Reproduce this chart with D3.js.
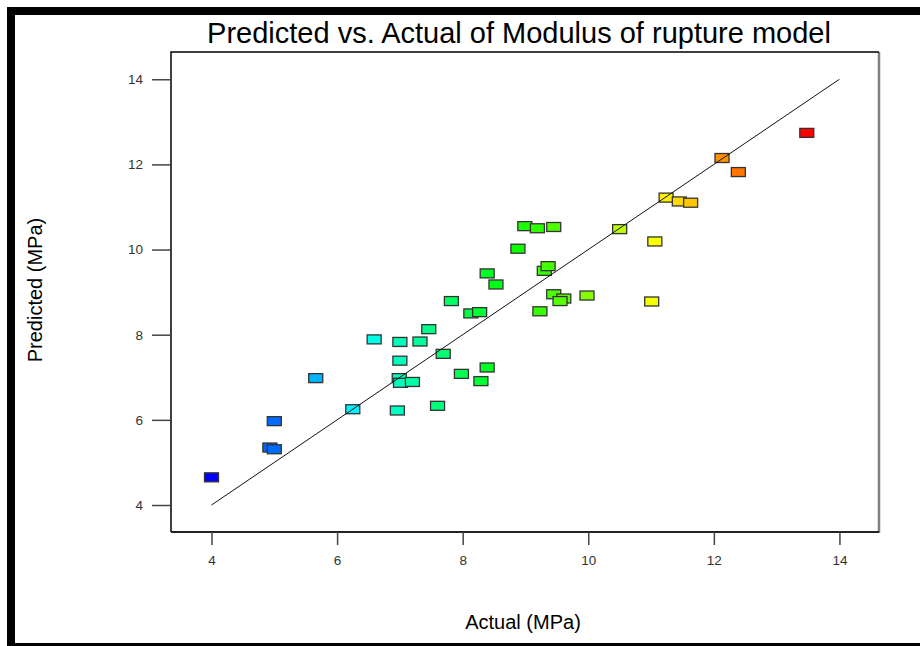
<!DOCTYPE html>
<html>
<head>
<meta charset="utf-8">
<script src="https://cdnjs.cloudflare.com/ajax/libs/d3/7.8.5/d3.min.js"></script>
<style>
    body { margin: 0; background: #fff; }
    svg { display: block; font-family: "Liberation Sans", Arial, sans-serif; }
    .axis text { fill: #333; font-size: 13.5px; }
    .axis line { stroke: #444; stroke-width: 1.5; }
</style>
</head>
<body>
<svg class="chart"></svg>
<script>
// Data
var actual = [4.00, 5.00, 4.93, 5.00, 5.66, 6.25, 6.59, 7.00, 7.32, 7.46,
    7.00, 6.99, 7.01, 7.20, 6.96, 7.60, 7.69, 7.98, 8.99, 9.19,
    9.45, 8.88, 8.39, 8.53, 9.30, 9.36, 7.82, 8.13, 8.27, 9.45,
    9.61, 9.55, 9.98, 9.23, 8.39, 8.29, 10.50, 11.06, 11.01, 12.13,
    12.39, 13.48, 11.24, 11.45, 11.63];
var predicted = [4.65, 5.97, 5.35, 5.31, 6.98, 6.25, 7.89, 7.83, 7.84, 8.13,
    7.39, 6.98, 6.87, 6.89, 6.22, 6.33, 7.55, 7.08, 10.55, 10.50,
    10.53, 10.02, 9.44, 9.18, 9.50, 9.61, 8.79, 8.50, 8.53, 8.95,
    8.85, 8.79, 8.92, 8.55, 7.23, 6.91, 10.48, 10.19, 8.78, 12.15,
    11.82, 12.74, 11.22, 11.13, 11.10];
var xTicks = [4, 6, 8, 10, 12, 14];
var yTicks = [4, 6, 8, 10, 12, 14];
var xLimits = [3.355, 14.63];
var yLimits = [3.366, 14.64];

var width = 920, height = 646;
var plot = { left: 171, right: 879, top: 52, bottom: 532 };
var boxW = 14, boxH = 9;

var chart = d3.select('.chart')
    .attr('width', width)
    .attr('height', height);

// Outer frame (left, top and bottom bands)
chart.append('rect').attr('x', 7).attr('y', 7).attr('width', 8).attr('height', 639).attr('fill', '#000');
chart.append('rect').attr('x', 7).attr('y', 7).attr('width', 913).attr('height', 8).attr('fill', '#000');
chart.append('rect').attr('x', 7).attr('y', 643).attr('width', 913).attr('height', 3).attr('fill', '#000');

// Scales
var x = d3.scaleLinear().domain(xLimits).range([plot.left, plot.right]);
var y = d3.scaleLinear().domain(yLimits).range([plot.bottom, plot.top]);

var lo = d3.min(actual), hi = d3.max(actual);
var color = d3.scaleLinear()
    .domain(d3.range(5).map(function(i) { return lo + i * (hi - lo) / 4; }))
    .range(['#0000ff', '#00ffff', '#00ff00', '#ffff00', '#ff0000'])
    .interpolate(d3.interpolateRgb);

// Plot box
chart.append('line')
    .attr('x1', plot.right).attr('x2', plot.right)
    .attr('y1', plot.top).attr('y2', plot.bottom + 1)
    .attr('stroke', '#808080').attr('stroke-width', 2.5);
chart.append('path')
    .attr('d', 'M' + plot.left + ',' + plot.bottom + 'V' + plot.top + 'H' + plot.right)
    .attr('fill', 'none').attr('stroke', '#000').attr('stroke-width', 1.5);
chart.append('line')
    .attr('x1', plot.left).attr('x2', plot.right)
    .attr('y1', plot.bottom).attr('y2', plot.bottom)
    .attr('stroke', '#222').attr('stroke-width', 2);

// Axes
var xAxis = d3.axisBottom(x).tickValues(xTicks).tickSize(13).tickPadding(10).tickFormat(d3.format('d'));
chart.append('g')
    .attr('class', 'axis')
    .attr('transform', 'translate(0,' + plot.bottom + ')')
    .call(xAxis)
    .call(function(g) { g.select('.domain').remove(); });

var yAxis = d3.axisLeft(y).tickValues(yTicks).tickSize(19).tickPadding(9).tickFormat(d3.format('d'));
chart.append('g')
    .attr('class', 'axis')
    .attr('transform', 'translate(' + plot.left + ',0)')
    .call(yAxis)
    .call(function(g) { g.select('.domain').remove(); });

chart.selectAll('.axis text').attr('font-family', null);

// Points
chart.append('g')
    .selectAll('rect')
    .data(actual)
    .enter()
    .append('rect')
    .attr('x', function(d) { return x(d) - boxW / 2; })
    .attr('y', function(d, i) { return y(predicted[i]) - boxH / 2; })
    .attr('width', boxW)
    .attr('height', boxH)
    .attr('fill', function(d) { return color(d); })
    .attr('stroke', '#333')
    .attr('stroke-width', 1.3);

// 1:1 line
chart.append('line')
    .attr('x1', x(4)).attr('y1', y(4))
    .attr('x2', x(14)).attr('y2', y(14))
    .attr('stroke', '#111').attr('stroke-width', 1);

// Titles
chart.append('text')
    .attr('x', 519).attr('y', 43)
    .attr('text-anchor', 'middle')
    .attr('font-size', '29px')
    .attr('fill', '#000')
    .text('Predicted vs. Actual of Modulus of rupture model');

chart.append('text')
    .attr('x', 523).attr('y', 629)
    .attr('text-anchor', 'middle')
    .attr('font-size', '20px')
    .attr('fill', '#000')
    .text('Actual (MPa)');

chart.append('text')
    .attr('transform', 'translate(42,290) rotate(-90)')
    .attr('text-anchor', 'middle')
    .attr('font-size', '20px')
    .attr('fill', '#000')
    .text('Predicted (MPa)');
</script>
</body>
</html>
